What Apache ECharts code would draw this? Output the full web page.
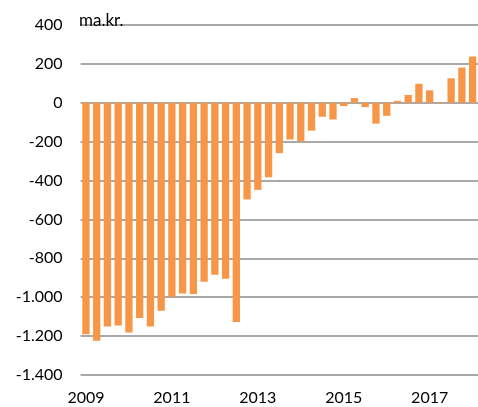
<!DOCTYPE html>
<html>
<head>
<meta charset="utf-8">
<script src="https://cdn.jsdelivr.net/npm/echarts@6/dist/echarts.min.js"></script>
<style>
  html, body { margin: 0; padding: 0; background: #fff; }
  #chart { width: 478px; height: 407px; }
</style>
</head>
<body>
<div id="chart"></div>
<script>
// kvartaler 2009K1 - 2018K1
const quarters = [
  '2009K1','2009K2','2009K3','2009K4',
  '2010K1','2010K2','2010K3','2010K4',
  '2011K1','2011K2','2011K3','2011K4',
  '2012K1','2012K2','2012K3','2012K4',
  '2013K1','2013K2','2013K3','2013K4',
  '2014K1','2014K2','2014K3','2014K4',
  '2015K1','2015K2','2015K3','2015K4',
  '2016K1','2016K2','2016K3','2016K4',
  '2017K1','2017K2','2017K3','2017K4',
  '2018K1'
];
// ma.kr.
const values = [
  -1190, -1224, -1151, -1146,
  -1181, -1107, -1151, -1069,
  -998, -981, -983, -921,
  -884, -905, -1127, -497,
  -448, -383, -259, -189,
  -198, -143, -72, -86,
  -17, 24, -22, -107,
  -67, 10, 40, 98,
  64, 3, 126, 181,
  238
];
const yMin = -1400, yMax = 400, yStep = 200;
const unitLabel = 'ma.kr.';

const fmt = v => {
  const s = Math.abs(v).toString().replace(/\B(?=(\d{3})+(?!\d))/g, '.');
  return (v < 0 ? '-' : '') + s;
};

let chart = echarts.init(document.getElementById('chart'));
chart.setOption({
  animation: false,
  textStyle: { fontFamily: 'Lato' },
  title: {
    text: unitLabel,
    left: 74, top: 7,
    textStyle: { fontFamily: 'Lato', fontSize: 17, fontWeight: 'normal', color: '#000' }
  },
  grid: { left: 80.6, top: 25, width: 398.5, height: 350 },
  xAxis: {
    type: 'category',
    data: quarters,
    boundaryGap: true,
    axisLine: { show: false },
    axisTick: { show: false },
    axisLabel: {
      interval: 7,
      margin: 15,
      fontSize: 16,
      color: '#000',
      formatter: v => v.slice(0, 4)
    }
  },
  yAxis: {
    type: 'value',
    min: yMin, max: yMax, interval: yStep,
    axisLine: { show: false },
    axisTick: { show: false },
    axisLabel: { fontSize: 16, color: '#000', margin: 18, formatter: fmt },
    splitLine: { lineStyle: { color: '#8c8c8c', width: 1.5 } }
  },
  series: [{
    type: 'bar',
    data: values,
    barCategoryGap: '32%',
    itemStyle: { color: '#F79646' }
  }]
});
</script>
</body>
</html>
